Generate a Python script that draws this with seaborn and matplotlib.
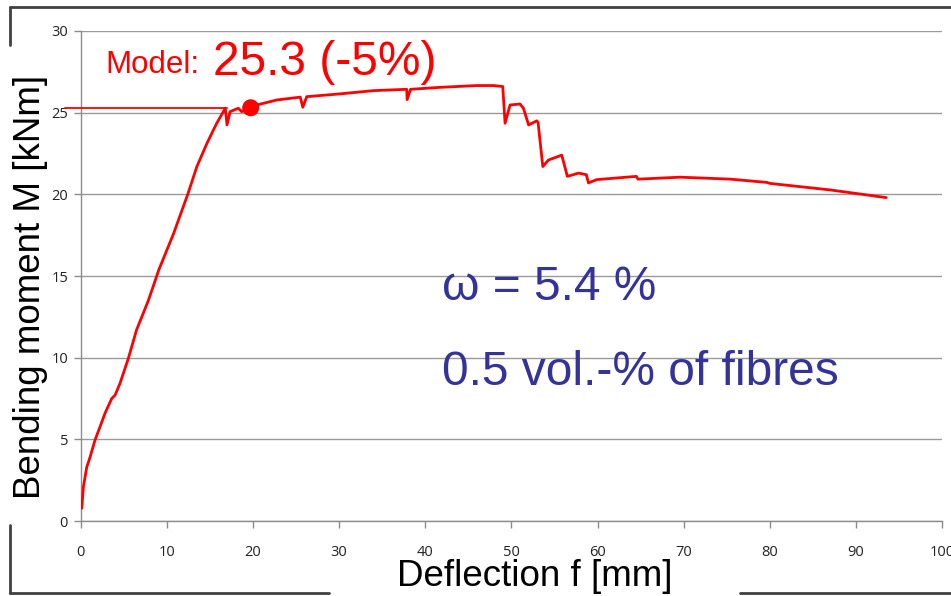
import matplotlib
matplotlib.use("Agg")
import matplotlib.pyplot as plt
from matplotlib.lines import Line2D
import seaborn as sns
import pandas

deflection = [0.14, 0.33, 0.72, 1.1, 1.68, 2.26, 2.84, 3.62, 4.0, 4.58, 5.55, 6.5,
              7.87, 9.1, 10.8, 12.44, 13.5, 14.65, 15.8, 16.8, 17.0, 17.35, 18.3,
              18.7, 19.75, 21.2, 22.8, 25.5, 25.8, 26.25, 30.1, 34.0, 37.86, 37.9,
              38.3, 41.7, 46.0, 47.9, 49.0, 49.27, 49.85, 51.0, 51.4, 52.0, 52.95,
              53.1, 53.65, 54.3, 55.85, 56.5, 57.8, 58.7, 58.95, 59.9, 64.5, 64.7,
              69.6, 75.4, 79.65, 80.0, 87.0, 93.5]
moment = [0.78, 2.1, 3.3, 3.9, 4.96, 5.77, 6.6, 7.5, 7.7, 8.43, 9.96, 11.7,
          13.5, 15.4, 17.6, 20.0, 21.7, 23.1, 24.35, 25.27, 24.25, 25.06, 25.27,
          25.06, 25.37, 25.57, 25.78, 25.95, 25.33, 25.98, 26.15, 26.35, 26.43, 25.8,
          26.43, 26.55, 26.66, 26.66, 26.6, 24.35, 25.47, 25.53, 25.27, 24.25, 24.5,
          24.4, 21.7, 22.1, 22.4, 21.1, 21.3, 21.2, 20.7, 20.9, 21.1, 20.93,
          21.05, 20.93, 20.73, 20.67, 20.27, 19.8]

# Model prediction
model_x = [19.75]
model_y = [25.3]
model_line_x = [-1.8, 17.0]

x_ticks = list(range(0, 101, 10))
y_ticks = list(range(0, 31, 5))

sns.set_theme(style="white")
plt.rcParams["font.family"] = ["Liberation Sans", "DejaVu Sans"]

df = pandas.DataFrame({"f": deflection, "M": moment})

fig = plt.figure(figsize=(9.51, 5.96), dpi=100)
ax = fig.add_axes([0.0847, 0.1258, 0.906, 0.8222])

ax.set_xlim(0, 100)
ax.set_ylim(0, 30)
ax.set_xticks(x_ticks)
ax.set_yticks(y_ticks)
ax.yaxis.grid(True, color="#9a9a9a", linewidth=1.0)
ax.set_axisbelow(True)

# horizontal model level line
ax.plot(model_line_x, [model_y[0]] * 2, color="#ff0000", linewidth=1.3,
        clip_on=False, zorder=3)

sns.lineplot(data=df, x="f", y="M", sort=False, estimator=None, color="#ff0000",
             linewidth=2.0, ax=ax, zorder=4)
sns.scatterplot(x=model_x, y=model_y, color="#ff0000", s=150, edgecolor="none",
                ax=ax, zorder=5)

for side in ["top", "right"]:
    ax.spines[side].set_visible(False)
for side in ["left", "bottom"]:
    ax.spines[side].set_color("#8c8c8c")
    ax.spines[side].set_linewidth(1.0)

ax.tick_params(axis="both", which="major", direction="out", length=5, width=1.0,
               color="#8c8c8c", labelsize=10.5, labelcolor="#222222", pad=4,
               left=True, bottom=True)
ax.tick_params(axis="x", pad=12)
for lab in ax.get_xticklabels() + ax.get_yticklabels():
    lab.set_family(["Open Sans", "DejaVu Sans"])

ax.set_xlabel("Deflection f [mm]", fontsize=26.5, color="black")
ax.set_ylabel("Bending moment M [kNm]", fontsize=26.5, color="black")
ax.xaxis.set_label_coords(0.5276, -0.078)
ax.yaxis.set_label_coords(-0.038, 0.478)

# annotations
fig.text(105 / 951, 1 - 73 / 596, "Model:", color="#ff0000", fontsize=22.5,
         ha="left", va="baseline")
fig.text(213 / 951, 1 - 75 / 596, "25.3 (-5%)", color="#ff0000", fontsize=34.5,
         ha="left", va="baseline")
fig.text(442 / 951, 1 - 300 / 596, "\u03c9 = 5.4 %", color="#333399", fontsize=34.5,
         ha="left", va="baseline")
fig.text(442 / 951, 1 - 385 / 596, "0.5 vol.-% of fibres", color="#333399",
         fontsize=34.5, ha="left", va="baseline")

# broken slide frame
frame = dict(color="#404040", linewidth=2.0, transform=fig.transFigure)
W, H = 951.0, 596.0
segs = [
    ([10, 951], [7, 7]),
    ([10, 10], [7, 45]),
    ([10, 10], [525, 593]),
    ([10, 329], [593, 593]),
    ([740, 951], [593, 593]),
]
for xs, ys in segs:
    fig.add_artist(Line2D([x / W for x in xs], [1 - y / H for y in ys], **frame))

fig.savefig("out.png", dpi=100, facecolor="white")
plt.close(fig)
